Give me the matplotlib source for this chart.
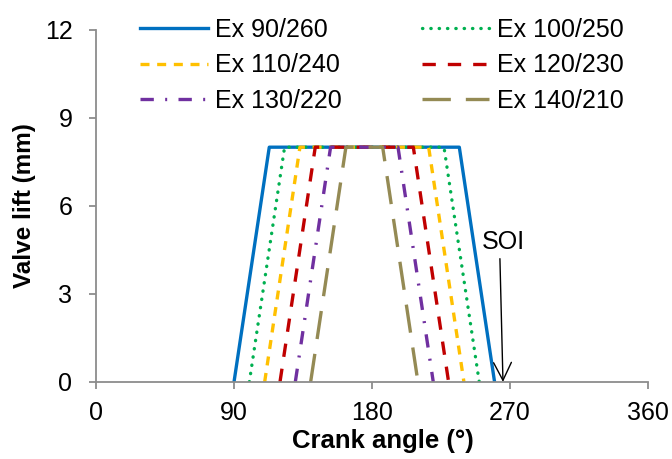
import matplotlib
matplotlib.use("Agg")
import matplotlib.pyplot as plt

plt.rcParams['font.family'] = ['Liberation Sans', 'DejaVu Sans']

labels = ["Ex 90/260", "Ex 100/250", "Ex 110/240", "Ex 120/230", "Ex 130/220", "Ex 140/210"]
x_90_260 = [90, 113, 237, 260]
x_100_250 = [100, 123, 227, 250]
x_110_240 = [110, 133, 217, 240]
x_120_230 = [120, 143, 207, 230]
x_130_220 = [130, 153, 197, 220]
x_140_210 = [140, 163, 187, 210]
lift = [0, 8, 8, 0]
xs = [x_90_260, x_100_250, x_110_240, x_120_230, x_130_220, x_140_210]

colors = ["#0070C0", "#00B050", "#FFC000", "#C00000", "#7030A0", "#948A54"]
styles = [
    dict(linestyle='-', linewidth=2.4),
    dict(linestyle=(0, (0.1, 2.4)), linewidth=2.4, dash_capstyle='round'),
    dict(linestyle=(0, (2.7, 2.3)), linewidth=2.4),
    dict(linestyle=(0, (4.0, 3.6)), linewidth=2.4),
    dict(linestyle=(0, (4.0, 3.4, 0.6, 3.4)), linewidth=2.4),
    dict(linestyle=(0, (8.5, 4.5)), linewidth=2.4),
]

fig = plt.figure(figsize=(6.72, 4.59), dpi=100)
ax = fig.add_axes([0.143, 0.168, 0.821, 0.767])

handles = []
for x, lab, c, st in zip(xs, labels, colors, styles):
    h, = ax.plot(x, lift, color=c, label=lab, **st)
    handles.append(h)

ax.set_xlim(0, 360)
ax.set_ylim(0, 12)
ax.set_xticks([0, 90, 180, 270, 360])
ax.set_yticks([0, 3, 6, 9, 12])
for s in ['top', 'right']:
    ax.spines[s].set_visible(False)
for s in ['left', 'bottom']:
    ax.spines[s].set_color('#8C8C8C')
    ax.spines[s].set_linewidth(1.3)
ax.tick_params(axis='both', colors='#8C8C8C', labelcolor='black', labelsize=18, length=5, width=1.3, direction='out')
ax.tick_params(axis='x', pad=9)
ax.tick_params(axis='y', pad=12)

ax.set_xlabel("Crank angle (°)", fontsize=18.5, fontweight='bold')
ax.xaxis.set_label_coords(0.52, -0.135)
ax.set_ylabel("Valve lift (mm)", fontsize=17.5, fontweight='bold', labelpad=6)

ax.text(265.5, 4.35, "SOI", fontsize=18, ha='center', va='bottom')
ax.annotate("", xy=(265.5, 0), xytext=(263.5, 4.2),
            arrowprops=dict(arrowstyle='->', color='black', lw=1.0,
                            mutation_scale=32, shrinkA=0, shrinkB=0))

order = [0, 2, 4, 1, 3, 5]
leg = fig.legend([handles[i] for i in order], [labels[i] for i in order],
                 ncol=2, loc='upper left', bbox_to_anchor=(140 / 672, 1 - 18 / 459),
                 bbox_transform=fig.transFigure, frameon=False, borderpad=0, borderaxespad=0,
                 fontsize=18, handlelength=2.7, handletextpad=0.3, columnspacing=3.2,
                 labelspacing=0.45)

fig.savefig("out.png", dpi=100)
